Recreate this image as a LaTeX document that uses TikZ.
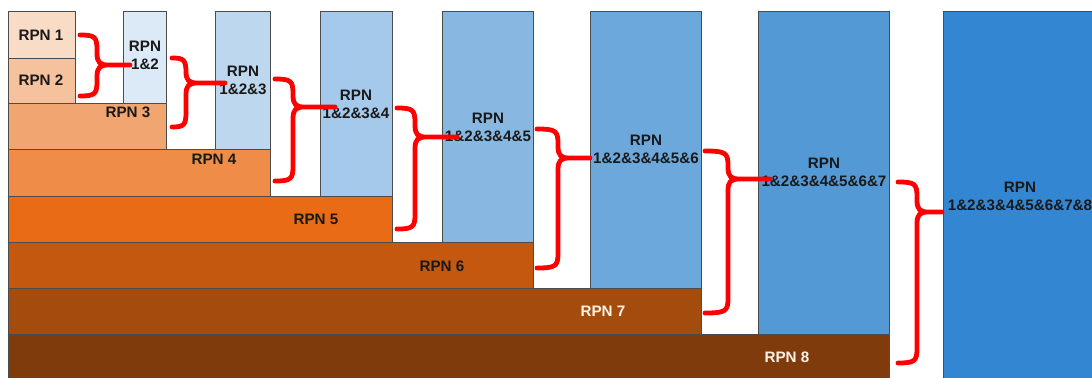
\documentclass[tikz,border=0pt]{standalone}
\usepackage{fontspec}
\setmainfont{Liberation Sans}

\definecolor{rpnA}{HTML}{F9DCC6}
\definecolor{rpnB}{HTML}{F6C29D}
\definecolor{rpnC}{HTML}{F1A672}
\definecolor{rpnD}{HTML}{EE8C48}
\definecolor{rpnE}{HTML}{E96B16}
\definecolor{rpnF}{HTML}{C4580F}
\definecolor{rpnG}{HTML}{A34C0D}
\definecolor{rpnH}{HTML}{7F3B0C}
\definecolor{sumB}{HTML}{DCEAF7}
\definecolor{sumC}{HTML}{BDD7EE}
\definecolor{sumD}{HTML}{A5C9EA}
\definecolor{sumE}{HTML}{88B8E2}
\definecolor{sumF}{HTML}{6DA8DC}
\definecolor{sumG}{HTML}{5399D6}
\definecolor{sumH}{HTML}{3286D2}
\definecolor{paletext}{HTML}{FFF3E6}

\begin{document}
\begin{tikzpicture}[x=0.025cm, y=-0.025cm,
  box/.style={draw=black!70, line width=0.6pt},
  lbl/.style={font=\fontsize{10.8}{12.8}\selectfont\bfseries, text=black!90,
    align=center, inner sep=0pt},
  rpnbrace/.style={red, line width=3.4pt, line cap=round, line join=round}]
  \clip (0,0) rectangle (1092,377);

  % single RPN blocks (staircase)
  \draw[box, fill=rpnA] (8,11) rectangle (75,58);
  \draw[box, fill=rpnB] (8,58) rectangle (75,103);
  \draw[box, fill=rpnC] (8,103) rectangle (166,149);
  \draw[box, fill=rpnD] (8,149) rectangle (270,196);
  \draw[box, fill=rpnE] (8,196) rectangle (392,242);
  \draw[box, fill=rpnF] (8,242) rectangle (533,288);
  \draw[box, fill=rpnG] (8,288) rectangle (701,334);
  \draw[box, fill=rpnH] (8,334) rectangle (889,385);

  % merged columns
  \draw[box, fill=sumB] (123,11) rectangle (166,103);
  \draw[box, fill=sumC] (215,11) rectangle (270,149);
  \draw[box, fill=sumD] (320,11) rectangle (392,196);
  \draw[box, fill=sumE] (442,11) rectangle (533,242);
  \draw[box, fill=sumF] (590,11) rectangle (701,288);
  \draw[box, fill=sumG] (758,11) rectangle (889,334);
  \draw[box, fill=sumH] (943,11) rectangle (1100,385);

  \node[lbl] (r1) at (41,35) {RPN 1};
  \node[lbl] (r2) at (41,80) {RPN 2};
  \node[lbl] (r3) at (128,112) {RPN 3};
  \node[lbl] (r4) at (214,159) {RPN 4};
  \node[lbl] (r5) at (316,219) {RPN 5};
  \node[lbl] (r6) at (442,266) {RPN 6};
  \node[lbl, text=paletext] (r7) at (603,311) {RPN 7};
  \node[lbl, text=paletext] (r8) at (787,357) {RPN 8};

  \node[lbl] (s2) at (145,55.5) {RPN\\1\&2};
  \node[lbl] (s3) at (243,80) {RPN\\1\&2\&3};
  \node[lbl] (s4) at (356,104) {RPN\\1\&2\&3\&4};
  \node[lbl] (s5) at (488,127) {RPN\\1\&2\&3\&4\&5};
  \node[lbl] (s6) at (646,149.5) {RPN\\1\&2\&3\&4\&5\&6};
  \node[lbl] (s7) at (824,172.5) {RPN\\1\&2\&3\&4\&5\&6\&7};
  \node[lbl] (s8) at (1020,196.5) {RPN\\1\&2\&3\&4\&5\&6\&7\&8};

  % braces: left end x, spine x, top y, tip y, bottom y, tip end x
  \foreach \xa/\xv/\yt/\ym/\yb/\xt in {80/97/35/65/96/130, 172/186/58/83/127/225,
      275/293/79/107/181/335, 397/415/108/137/229/457, 537/558/129/158/268/590,
      705/728/151/179/313/770, 898/917/182/212/363/942}
    \draw[rpnbrace] (\xa,\yt) .. controls (\xv-2,\yt) and (\xv,\yt+2) .. (\xv,\yt+15)
      -- (\xv,\ym-12) .. controls (\xv,\ym-2) and (\xv+3,\ym) .. (\xv+12,\ym) -- (\xt,\ym)
      (\xv+12,\ym) .. controls (\xv+3,\ym) and (\xv,\ym+2) .. (\xv,\ym+12)
      -- (\xv,\yb-15) .. controls (\xv,\yb-2) and (\xv-2,\yb) .. (\xa,\yb);
\end{tikzpicture}
\end{document}
